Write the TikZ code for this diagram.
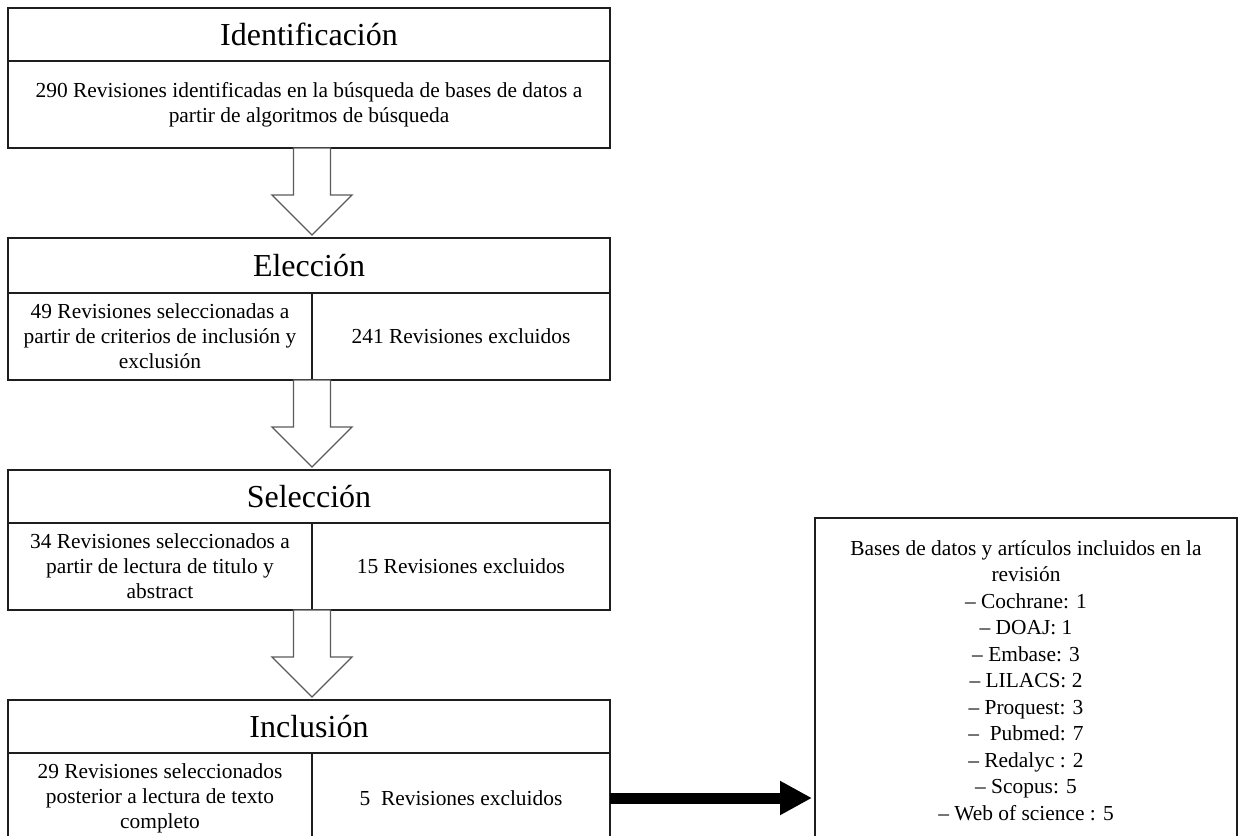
\documentclass[tikz,border=0pt]{standalone}
\usepackage{fontspec}
\setmainfont{Liberation Serif}
\usetikzlibrary{positioning,calc,arrows.meta}
\definecolor{boxline}{RGB}{30,30,30}
\definecolor{arrowgray}{RGB}{90,90,90}

\begin{document}
\begin{tikzpicture}[
    x=1pt, y=-1pt,
    titlebox/.style={draw=boxline, line width=1.4pt, outer sep=0pt, inner sep=0pt,
        minimum width=602pt, anchor=north west, font=\fontsize{32}{38}\selectfont},
    rowbox/.style={draw=boxline, line width=1.4pt, outer sep=0pt, inner sep=0pt,
        align=center, anchor=north west, font=\fontsize{21.4}{25}\selectfont},
    hollowarrow/.style={draw=arrowgray, line width=1.3pt, fill=white},
    thickarrow/.style={line width=11pt, -{Triangle[length=32pt,width=32pt]}, shorten >=3pt}
]
\useasboundingbox (0,0) rectangle (1244,835);
\clip (0,0) rectangle (1244,835);

% Identificacion
\node[titlebox, minimum height=53pt] (ident) at (8,8) {Identificación};
\node[rowbox, minimum width=602pt, minimum height=87pt] (identb) at (ident.south west)
    {290 Revisiones identificadas en la búsqueda de bases de datos a\\ partir de algoritmos de búsqueda};

% Eleccion
\node[titlebox, minimum height=55pt] (elec) at (8,238) {Elección};
\node[rowbox, minimum width=304pt, minimum height=87pt] (elecl) at (elec.south west)
    {49 Revisiones seleccionadas a\\ partir de criterios de inclusión y\\ exclusión};
\node[rowbox, minimum width=298pt, minimum height=87pt] (elecr) at (elecl.north east)
    {241 Revisiones excluidos};

% Seleccion
\node[titlebox, minimum height=53pt] (sel) at (8,470) {Selección};
\node[rowbox, minimum width=304pt, minimum height=87pt] (sell) at (sel.south west)
    {34 Revisiones seleccionados a\\ partir de lectura de titulo y\\ abstract};
\node[rowbox, minimum width=298pt, minimum height=87pt] (selr) at (sell.north east)
    {15 Revisiones excluidos};

% Inclusion
\node[titlebox, minimum height=53pt] (incl) at (8,700) {Inclusión};
\node[rowbox, minimum width=304pt, minimum height=90pt] (incll) at (incl.south west)
    {29 Revisiones seleccionados\\ posterior a lectura de texto\\ completo};
\node[rowbox, minimum width=298pt, minimum height=90pt] (inclr) at (incll.north east)
    {5\ \ Revisiones excluidos};

% bases de datos
\node[rowbox, minimum width=422pt, minimum height=325pt,
      font=\fontsize{21.4}{26.5}\selectfont] (bases) at (815,518)
    {Bases de datos y artículos incluidos en la\\ revisión\\ – Cochrane: 1\\ – DOAJ: 1\\
     – Embase: 3\\ – LILACS: 2\\ – Proquest: 3\\ –\ \ Pubmed: 7\\ – Redalyc : 2\\
     – Scopus: 5\\ – Web of science : 5};

\coordinate (divx) at (312,0);

% flechas huecas
\foreach \s/\t in {identb/elec, elecl/sel, sell/incl}
    \draw[hollowarrow] ($(\s.south -| divx)+(-18.5,0)$) -- ++(0,47) -- ++(-21.5,0)
        -- ($(\t.north -| divx)+(0,-3)$) -- ++(40,-40) -- ++(-21.5,0) -- ++(0,-47) -- cycle;

\draw[thickarrow] (inclr.east) -- (bases.west |- inclr.east);

\end{tikzpicture}
\end{document}
